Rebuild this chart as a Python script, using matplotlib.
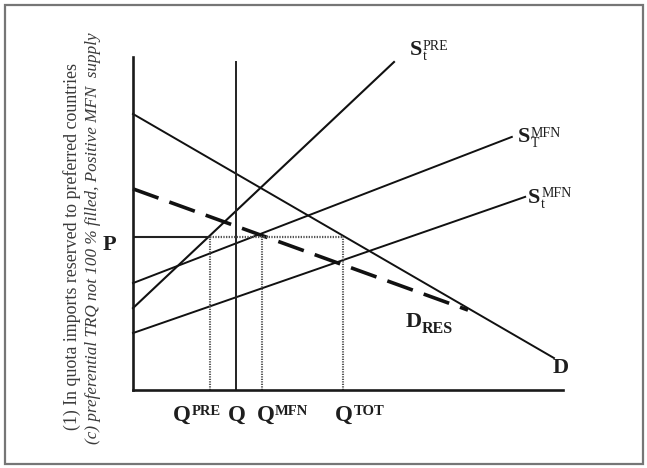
import matplotlib
matplotlib.use("Agg")
import matplotlib.pyplot as plt
from matplotlib.patches import Rectangle

plt.rcParams['font.family'] = ['Liberation Serif', 'DejaVu Serif']

# ---- data (quantity on x, price on y; arbitrary units 0..10) ----
demand_q = [0.0, 9.79]
demand_p = [8.29, 0.96]
dres_q = [0.0, 7.79]
dres_p = [6.04, 2.40]
s_pre_q = [0.0, 6.07]
s_pre_p = [2.46, 9.85]
s_T_mfn_q = [0.0, 8.81]
s_T_mfn_p = [3.21, 7.60]
s_t_mfn_q = [0.0, 9.12]
s_t_mfn_p = [1.71, 5.80]
price_P = 4.59
q_quota = 2.40
q_quota_top = 9.85
q_marks = [1.79, 3.0, 4.88]          # Q_PRE, Q_MFN, Q_TOT (dotted drops)
q_main = ['Q', 'Q', 'Q', 'Q']
q_sups = ['PRE', None, 'MFN', 'TOT']
side_text1 = "(1) In quota imports reserved to preferred countries"
side_text2 = "(c) preferential TRQ not 100 % filled, Positive MFN  supply"

# label anchors (left edge / baseline of the main letter, data units)
q_label_x = [0.93, 2.21, 2.88, 4.70]
q_label_y = -0.93

W, H = 647, 468
fig = plt.figure(figsize=(W / 100, H / 100), dpi=100)
fig.patch.set_facecolor('white')
renderer = fig.canvas.get_renderer()

fig.patches.append(Rectangle((5 / W, 4 / H), 638 / W, 459 / H, transform=fig.transFigure,
                             fill=False, edgecolor='#767676', linewidth=1.6))

ax = fig.add_axes([133 / W, (H - 390) / H, 430 / W, 333 / H])
ax.set_xlim(0, 10)
ax.set_ylim(0, 10)
ax.set_facecolor('none')
for s in ['top', 'right']:
    ax.spines[s].set_visible(False)
for s in ['left', 'bottom']:
    ax.spines[s].set_linewidth(1.9)
    ax.spines[s].set_color('#1a1a1a')
ax.set_xticks([])
ax.set_yticks([])

lc = '#111111'
ax.plot(demand_q, demand_p, color=lc, lw=1.4, clip_on=False)
ax.plot(dres_q, dres_p, color=lc, lw=2.6, linestyle=(0, (7.5, 3.2)), clip_on=False)
ax.plot(s_pre_q, s_pre_p, color=lc, lw=1.5, clip_on=False)
ax.plot(s_T_mfn_q, s_T_mfn_p, color=lc, lw=1.4, clip_on=False)
ax.plot(s_t_mfn_q, s_t_mfn_p, color=lc, lw=1.4, clip_on=False)
ax.plot([q_quota, q_quota], [0, q_quota_top], color='#222222', lw=1.4, clip_on=False)

ax.plot([0, q_marks[0]], [price_P, price_P], color='#222222', lw=1.5)
ax.plot([q_marks[0], q_marks[2]], [price_P, price_P], color='#555555', lw=1.6,
        linestyle=(0, (0.6, 0.6)))
for qm in q_marks:
    ax.plot([qm, qm], [0, price_P], color='#555555', lw=1.5, linestyle=(0, (0.6, 0.6)))

tc = '#1e1e1e'


def label(xd, yd, main, sup=None, sub=None, size=16, ssize=10, sup_bold=False,
          sub_bold=False, raise_px=6.0, drop_px=4.5):
    px, py = ax.transData.transform((xd, yd))
    t = fig.text(px / W, py / H, main, ha='left', va='baseline', fontsize=size,
                 fontweight='bold', color=tc)
    w = t.get_window_extent(renderer).width
    x2 = px + w + 0.5
    if sup and sub:
        # stacked superscript over subscript as one two-line text
        fig.text(x2 / W, (py - drop_px) / H, sup + "\n" + sub, ha='left', va='baseline',
                 multialignment='left', linespacing=0.74, fontsize=ssize,
                 fontweight='bold' if sup_bold else 'normal', color=tc)
    elif sup:
        fig.text(x2 / W, (py + raise_px) / H, sup, ha='left', va='baseline', fontsize=ssize,
                 fontweight='bold' if sup_bold else 'normal', color=tc)
    elif sub:
        fig.text(x2 / W, (py - drop_px) / H, sub, ha='left', va='baseline', fontsize=ssize,
                 fontweight='bold' if sub_bold else 'normal', color=tc)


for m, sp, xq in zip(q_main, q_sups, q_label_x):
    label(xq, q_label_y, m, sup=sp, size=16.5, ssize=10.5, sup_bold=True, raise_px=5.5)

label(-0.70, 4.20, 'P', size=16)
label(6.44, 10.06, 'S', sup='PRE', sub='t', size=16, ssize=10, drop_px=5)
label(8.95, 7.45, 'S', sup='MFN', sub='T', size=16, ssize=10, drop_px=5)
label(9.19, 5.62, 'S', sup='MFN', sub='t', size=16, ssize=10, drop_px=5)
label(6.33, 1.89, 'D', sub='RES', size=16, ssize=11.5, sub_bold=True, drop_px=5.5)
label(9.77, 0.51, 'D', size=16)

fig.text(72 / W, 1 - 246 / H, side_text1, rotation=90, ha='center', va='center',
         fontsize=12.9, color='#3a3a3a')
fig.text(93 / W, 1 - 238 / H, side_text2, rotation=90, ha='center', va='center',
         fontsize=12.3, color='#3a3a3a', style='italic')

fig.savefig('out.png', dpi=100, facecolor='white')
